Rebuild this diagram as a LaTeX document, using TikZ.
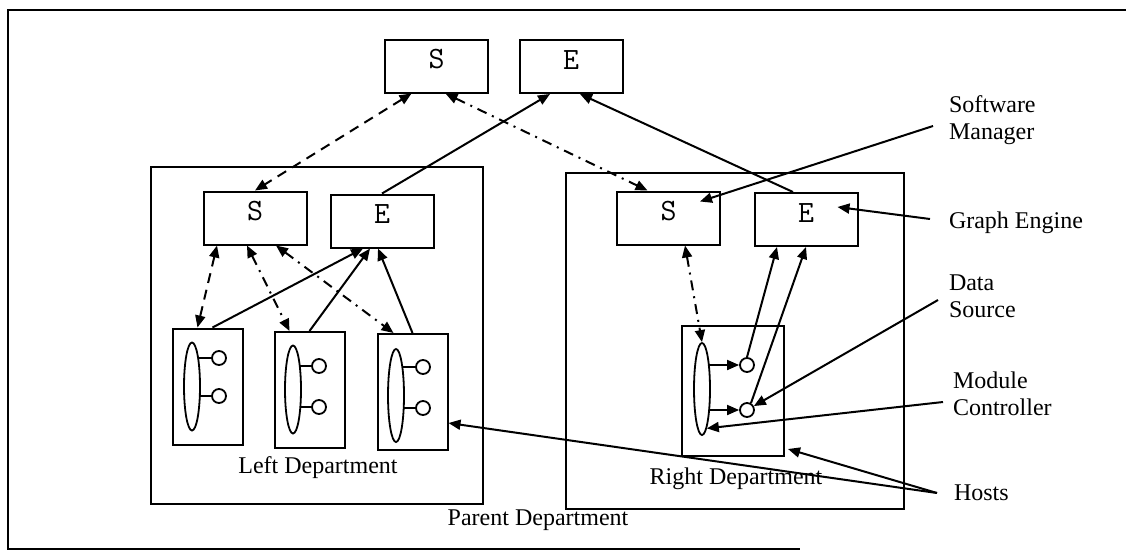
\documentclass[tikz,border=0pt]{standalone}
\usepackage{fontspec}
\setmainfont{Liberation Serif}
\usepackage{tikz}
\usetikzlibrary{arrows.meta,shapes.geometric}
\tikzset{>={Triangle[length=12pt,width=10pt]},
    every path/.style={line width=2pt},
    mgr/.style={draw,line width=2pt,minimum width=103pt,minimum height=53pt,inner sep=0pt,
        text height=19pt,text depth=14pt,font=\ttfamily\fontsize{31}{31}\selectfont},
    dept/.style={draw,line width=2pt,inner sep=0pt},
    host/.style={draw,line width=2pt,minimum width=70pt,minimum height=116pt,inner sep=0pt},
    mc/.style={draw,ellipse,line width=1.8pt,minimum width=16pt,minimum height=88pt,inner sep=0pt},
    ds/.style={draw,circle,line width=1.8pt,minimum size=14pt,inner sep=0pt},
    tie/.style={line width=1.8pt,shorten <=-1.5pt},
    smlink/.style={<->,dash pattern=on 10pt off 7pt},
    smdot/.style={<->,dash pattern=on 10pt off 6pt on 2pt off 6pt},
    lbl/.style={inner sep=0pt,font=\fontsize{24}{27}\selectfont},
    side/.style={lbl,anchor=west,align=left}}
\begin{document}
\begin{tikzpicture}[x=1pt,y=-1pt]
\useasboundingbox (0,0) rectangle (1126,552);
\draw (1126,10) -- (8,10) -- (8,549) -- (800,549);
% managers and engines
\node[mgr] (ts) at (436.5,66) {S};
\node[mgr] (te) at (571,66.5) {E};
\node[dept,minimum width=332pt,minimum height=337pt] (ld) at (317,335.5) {};
\node[dept,minimum width=338pt,minimum height=336pt] (rd) at (735,341) {};
\node[mgr] (ls) at (255,218) {S};
\node[mgr] (le) at (382,221) {E};
\node[mgr] (rs) at (668.5,218) {S};
\node[mgr] (re) at (806,219.5) {E};
% hosts
\node[host] (h1) at (207.5,386.5) {};
\node[host] (h2) at (309.5,390) {};
\node[host] (h3) at (412.5,392) {};
\node[host,minimum width=102pt,minimum height=130pt] (h4) at (733,391) {};
\node[mc] (m1) at (192,386.5) {};
\node[mc] (m2) at (293,389.5) {};
\node[mc,minimum height=93pt] (m3) at (396,395.5) {};
\node[mc,minimum height=92pt] (m4) at (702,389) {};
\node[ds] (d11) at (219,358) {};
\node[ds] (d12) at (219,396) {};
\node[ds] (d21) at (319,366) {};
\node[ds] (d22) at (319,407) {};
\node[ds] (d31) at (423,367) {};
\node[ds] (d32) at (423,408) {};
\node[ds] (d41) at (747,365) {};
\node[ds] (d42) at (747,410) {};
\foreach \m/\d in {m1/d11,m1/d12,m2/d21,m2/d22,m3/d31,m3/d32}
  \draw[tie] (\m.east |- \d) -- (\d);
\foreach \d in {d41,d42}
  \draw[tie,->] (m4.east |- \d) -- (\d);
% texts
\node[lbl] (ldl) at (318,468) {Left Department};
\node[lbl] (rdl) at (736,479) {Right Department};
\node[lbl] (pdl) at (538,520) {Parent Department};
\node[side] (sm) at (948,120) {Software\\Manager};
\node[side] (ge) at (948,223) {Graph Engine};
\node[side] (dsl) at (948,296) {Data\\Source};
\node[side] (mcl) at (952,394) {Module\\Controller};
\node[side] (ho) at (953,493) {Hosts};
% links
\draw[smlink] ([xshift=-25pt]ts.south) -- (ls.north);
\draw[smdot] ([xshift=9pt]ts.south) -- ([xshift=-21pt]rs.north);
\draw[->] (le.north) -- ([xshift=-21pt]te.south);
\draw[->] ([xshift=-13pt]re.north) -- ([xshift=9pt]te.south);
\draw[smlink] ([xshift=-38pt]ls.south) -- ([xshift=-10pt]h1.north);
\draw[smdot] ([xshift=-8pt]ls.south) -- ([xshift=-20pt]h2.north);
\draw[smdot] ([xshift=21pt]ls.south) -- ([xshift=-19pt]h3.north);
\draw[->] ([xshift=5pt]h1.north) -- ([xshift=-19pt]le.south);
\draw[->] (h2.north) -- ([xshift=-12pt]le.south);
\draw[->] (h3.north) -- ([xshift=-4pt]le.south);
\draw[smdot] ([xshift=16.5pt]rs.south) -- (m4.north);
\draw[->] (d41.north) -- ([xshift=-29pt]re.south);
\draw[->] (d42.60) -- (re.south);
% callouts
\draw[->] ([xshift=-15pt,yshift=-6pt]sm.west) -- ([xshift=-21pt,yshift=-11pt]rs.north east);
\draw[->] ([xshift=-18pt,yshift=4pt]ge.west) -- ([xshift=-21pt,yshift=-15pt]re.north east);
\draw[->] ([xshift=-10pt,yshift=-4pt]dsl.west) -- (d42);
\draw[->] ([xshift=-9pt,yshift=-8pt]mcl.west) -- (m4.-83);
\draw[->] ([xshift=-16pt]ho.west) -- ([xshift=3pt,yshift=8pt]h4.south east);
\draw[->] ([xshift=-16pt]ho.west) -- ([yshift=-31pt]h3.east);
\end{tikzpicture}
\end{document}
